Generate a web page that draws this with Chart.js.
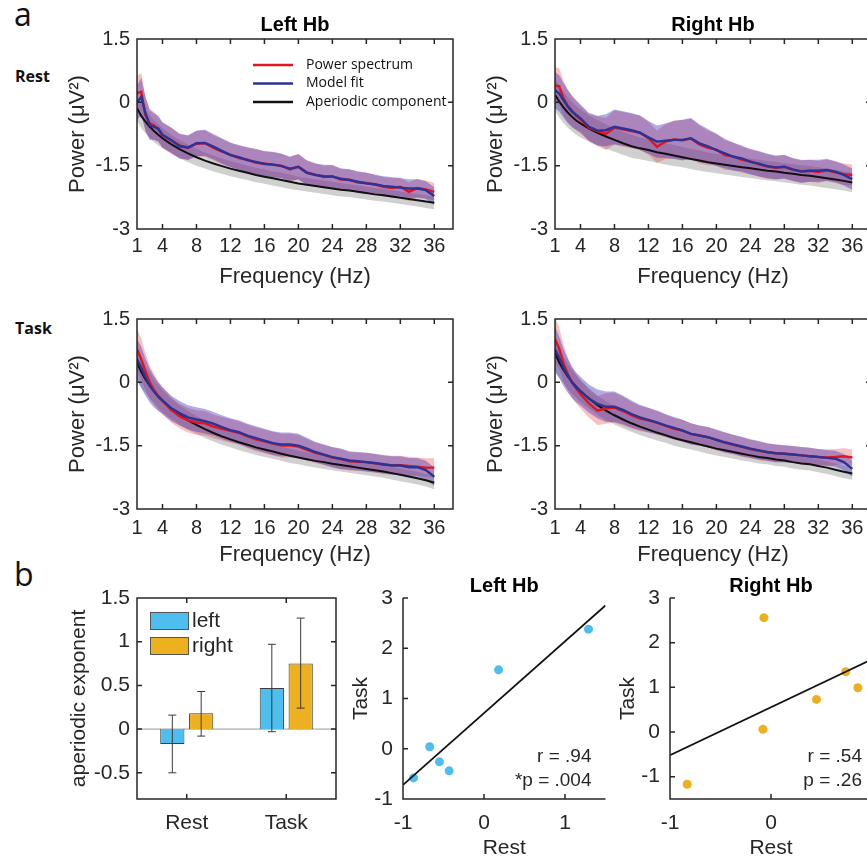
<!DOCTYPE html>
<html>
<head>
<meta charset="utf-8">
<script src="https://cdn.jsdelivr.net/npm/chart.js@4.4.1/dist/chart.umd.min.js"></script>
<style>
  html, body { margin: 0; padding: 0; background: #fff; }
  #fig { position: relative; width: 867px; height: 859px; overflow: hidden; }
  #fig canvas { position: absolute; }
  .lab { position: absolute; font-family: "Open Sans", sans-serif; color: #111; white-space: nowrap; }
</style>
</head>
<body>
<div id="fig">
  <div class="lab" style="left:14px; top:-2px; font-size:32px; line-height:32px;">a</div>
  <div class="lab" style="left:14px; top:558px; font-size:32px; line-height:32px;">b</div>
  <div class="lab" style="left:15px; top:68px; font-size:16px; line-height:16px; font-weight:bold;">Rest</div>
  <div class="lab" style="left:15px; top:320px; font-size:16px; line-height:16px; font-weight:bold;">Task</div>
</div>
<script>
// ---- spectra (a) ----
const freqs = [1, 1.5, 2, 2.5, 3, 3.5, 4, 5, 6, 7, 8, 9, 10, 11, 12, 13, 14, 15, 16, 17, 18, 19, 20,
  21, 22, 23, 24, 25, 26, 27, 28, 29, 30, 31, 32, 33, 34, 35, 36];
const freqTicks = [1, 4, 8, 12, 16, 20, 24, 28, 32, 36];
const powerTicks = [-3, -1.5, 0, 1.5];

const restLeftSpec = [0.22, 0.25, -0.30, -0.50, -0.55, -0.64, -0.78, -0.90, -1.02, -1.08, -0.98, -0.97, -1.08, -1.17, -1.24, -1.32, -1.36, -1.43, -1.45, -1.48, -1.50, -1.59, -1.52,
  -1.66, -1.71, -1.77, -1.75, -1.83, -1.83, -1.90, -1.91, -1.95, -2.00, -2.03, -2.00, -2.12, -2.03, -2.06, -2.12];
const restLeftFit = [-0.01, 0.13, -0.26, -0.54, -0.58, -0.62, -0.77, -0.89, -1.04, -1.07, -0.97, -0.96, -1.05, -1.15, -1.25, -1.30, -1.37, -1.41, -1.46, -1.47, -1.51, -1.57, -1.53,
  -1.67, -1.72, -1.75, -1.76, -1.81, -1.84, -1.88, -1.92, -1.94, -1.98, -2.00, -2.02, -2.04, -2.04, -2.08, -2.22];
const restLeftAper = [-0.14, -0.32, -0.46, -0.58, -0.68, -0.77, -0.85, -0.99, -1.11, -1.21, -1.30, -1.38, -1.45, -1.51, -1.57, -1.62, -1.67, -1.72, -1.76, -1.80, -1.84, -1.88, -1.92,
  -1.95, -1.98, -2.01, -2.04, -2.07, -2.09, -2.12, -2.15, -2.18, -2.20, -2.23, -2.26, -2.29, -2.32, -2.35, -2.38];
const restLeftSem = [0.40, 0.45, 0.40, 0.35, 0.32, 0.30, 0.30, 0.30, 0.29, 0.29, 0.30, 0.31, 0.30, 0.30, 0.29, 0.29, 0.30, 0.31, 0.30, 0.30, 0.29, 0.29, 0.30,
  0.29, 0.27, 0.27, 0.27, 0.25, 0.25, 0.25, 0.25, 0.23, 0.23, 0.23, 0.22, 0.22, 0.22, 0.21, 0.21];
const restLeftAperSem = [0.30, 0.29, 0.28, 0.27, 0.26, 0.25, 0.24, 0.23, 0.22, 0.21, 0.20, 0.19, 0.19, 0.18, 0.18, 0.18, 0.17, 0.17, 0.17, 0.17, 0.17, 0.17, 0.16,
  0.16, 0.16, 0.16, 0.16, 0.16, 0.15, 0.15, 0.15, 0.15, 0.15, 0.15, 0.15, 0.15, 0.15, 0.15, 0.15];

const restRightSpec = [0.40, 0.38, 0.10, -0.08, -0.20, -0.32, -0.40, -0.60, -0.68, -0.75, -0.60, -0.64, -0.68, -0.72, -0.85, -1.05, -0.93, -0.88, -0.90, -0.86, -1.00, -1.08, -1.12,
  -1.25, -1.28, -1.36, -1.40, -1.47, -1.52, -1.55, -1.52, -1.60, -1.63, -1.62, -1.65, -1.61, -1.66, -1.70, -1.72];
const restRightFit = [0.29, 0.21, 0.05, -0.10, -0.22, -0.30, -0.38, -0.58, -0.67, -0.66, -0.58, -0.62, -0.66, -0.72, -0.83, -0.93, -0.91, -0.89, -0.89, -0.85, -0.97, -1.04, -1.13,
  -1.21, -1.29, -1.33, -1.41, -1.45, -1.51, -1.54, -1.53, -1.59, -1.64, -1.62, -1.62, -1.60, -1.64, -1.72, -1.82];
const restRightAper = [0.18, 0.02, -0.12, -0.24, -0.34, -0.43, -0.50, -0.62, -0.72, -0.81, -0.89, -0.97, -1.04, -1.09, -1.13, -1.18, -1.22, -1.26, -1.30, -1.34, -1.38, -1.42, -1.45,
  -1.48, -1.51, -1.54, -1.56, -1.59, -1.62, -1.64, -1.67, -1.69, -1.72, -1.74, -1.77, -1.80, -1.83, -1.86, -1.90];
const restRightSem = [0.43, 0.43, 0.41, 0.39, 0.37, 0.35, 0.33, 0.33, 0.35, 0.38, 0.41, 0.41, 0.41, 0.41, 0.39, 0.38, 0.41, 0.45, 0.48, 0.48, 0.45, 0.41, 0.38,
  0.35, 0.33, 0.31, 0.30, 0.30, 0.29, 0.28, 0.28, 0.27, 0.27, 0.26, 0.26, 0.26, 0.25, 0.25, 0.25];
const restRightAperSem = [0.38, 0.38, 0.37, 0.36, 0.35, 0.34, 0.33, 0.31, 0.30, 0.29, 0.28, 0.27, 0.27, 0.26, 0.26, 0.25, 0.25, 0.25, 0.24, 0.24, 0.24, 0.23, 0.23,
  0.23, 0.23, 0.23, 0.23, 0.23, 0.23, 0.23, 0.23, 0.23, 0.23, 0.23, 0.23, 0.23, 0.23, 0.23, 0.23];

const taskLeftSpec = [0.78, 0.55, 0.25, 0.00, -0.18, -0.32, -0.43, -0.65, -0.80, -0.90, -0.95, -0.97, -1.05, -1.10, -1.15, -1.20, -1.28, -1.35, -1.40, -1.45, -1.50, -1.50, -1.52,
  -1.60, -1.67, -1.72, -1.78, -1.82, -1.87, -1.88, -1.89, -1.92, -1.95, -1.96, -1.96, -1.98, -2.00, -2.02, -2.02];
const taskLeftFit = [0.55, 0.35, 0.12, -0.08, -0.22, -0.34, -0.43, -0.61, -0.73, -0.83, -0.88, -0.92, -0.98, -1.06, -1.13, -1.18, -1.26, -1.32, -1.38, -1.44, -1.47, -1.47, -1.50,
  -1.57, -1.65, -1.71, -1.77, -1.81, -1.85, -1.87, -1.89, -1.91, -1.94, -1.97, -1.97, -2.01, -2.01, -2.08, -2.24];
const taskLeftAper = [0.47, 0.25, 0.07, -0.08, -0.20, -0.33, -0.44, -0.62, -0.77, -0.90, -1.01, -1.11, -1.20, -1.28, -1.35, -1.42, -1.48, -1.54, -1.59, -1.64, -1.69, -1.74, -1.78,
  -1.82, -1.86, -1.89, -1.93, -1.96, -1.99, -2.02, -2.05, -2.08, -2.11, -2.15, -2.19, -2.23, -2.27, -2.32, -2.38];
const taskLeftSem = [0.49, 0.49, 0.44, 0.40, 0.37, 0.34, 0.32, 0.30, 0.29, 0.29, 0.29, 0.29, 0.28, 0.28, 0.28, 0.28, 0.28, 0.28, 0.28, 0.28, 0.28, 0.28, 0.28,
  0.26, 0.24, 0.24, 0.24, 0.24, 0.22, 0.22, 0.22, 0.22, 0.22, 0.22, 0.22, 0.22, 0.22, 0.22, 0.22];
const taskLeftAperSem = [0.42, 0.37, 0.32, 0.30, 0.28, 0.27, 0.26, 0.24, 0.23, 0.22, 0.22, 0.21, 0.20, 0.20, 0.19, 0.19, 0.18, 0.18, 0.18, 0.17, 0.17, 0.17, 0.16,
  0.16, 0.16, 0.16, 0.15, 0.15, 0.15, 0.15, 0.15, 0.15, 0.15, 0.15, 0.15, 0.15, 0.15, 0.15, 0.15];

const taskRightSpec = [1.02, 0.80, 0.45, 0.20, 0.00, -0.15, -0.28, -0.50, -0.67, -0.62, -0.60, -0.68, -0.78, -0.86, -0.90, -0.96, -1.03, -1.10, -1.15, -1.22, -1.26, -1.30, -1.37,
  -1.43, -1.48, -1.53, -1.58, -1.62, -1.66, -1.68, -1.69, -1.71, -1.73, -1.75, -1.77, -1.78, -1.77, -1.75, -1.78];
const taskRightFit = [0.78, 0.59, 0.35, 0.16, 0.00, -0.12, -0.21, -0.39, -0.51, -0.58, -0.58, -0.65, -0.75, -0.83, -0.89, -0.95, -1.02, -1.08, -1.14, -1.22, -1.26, -1.30, -1.36,
  -1.42, -1.47, -1.52, -1.57, -1.61, -1.65, -1.68, -1.69, -1.71, -1.73, -1.75, -1.77, -1.79, -1.81, -1.89, -2.05];
const taskRightAper = [0.70, 0.47, 0.29, 0.14, 0.01, -0.10, -0.21, -0.38, -0.54, -0.67, -0.78, -0.88, -0.97, -1.05, -1.12, -1.19, -1.25, -1.32, -1.37, -1.42, -1.47, -1.52, -1.57,
  -1.61, -1.65, -1.69, -1.73, -1.77, -1.79, -1.83, -1.85, -1.89, -1.92, -1.94, -1.98, -2.02, -2.07, -2.12, -2.16];
const taskRightSem = [0.54, 0.49, 0.44, 0.40, 0.37, 0.35, 0.34, 0.33, 0.34, 0.36, 0.36, 0.34, 0.32, 0.30, 0.29, 0.28, 0.27, 0.26, 0.26, 0.25, 0.24, 0.24, 0.24,
  0.24, 0.23, 0.23, 0.22, 0.22, 0.21, 0.21, 0.20, 0.20, 0.20, 0.20, 0.19, 0.19, 0.19, 0.19, 0.19];
const taskRightAperSem = taskLeftAperSem;

// ---- aperiodic exponent (b) ----
const conditions = ['Rest', 'Task'];
const leftExp = [-0.17, 0.47];
const rightExp = [0.18, 0.75];
const leftExpLo = [-0.50, -0.03];
const leftExpHi = [0.16, 0.97];
const rightExpLo = [-0.08, 0.24];
const rightExpHi = [0.43, 1.27];
const expTicks = [-0.5, 0, 0.5, 1, 1.5];

const leftRest = [1.29, 0.18, -0.67, -0.55, -0.43, -0.87];
const leftTask = [2.38, 1.57, 0.04, -0.26, -0.44, -0.58];
const leftFitX = [-1, 1.5];
const leftFitY = [-0.72, 2.85];
const rightRest = [-0.07, 0.74, 0.86, 0.45, -0.08, -0.83];
const rightTask = [2.56, 1.35, 0.99, 0.73, 0.06, -1.17];
const rightFitX = [-1, 1];
const rightFitY = [-0.52, 1.63];

const INK = '#262626';
const RED = '#E3141E';
const BLUE = '#2B3396';
const SKY = '#4DBEEE';
const GOLD = '#EDB120';

Chart.defaults.font.family = '"Liberation Sans", Arial, Helvetica, sans-serif';
Chart.defaults.color = INK;
Chart.defaults.animation = false;

function makeCanvas(left, top, w, h) {
  const c = document.createElement('canvas');
  c.width = w; c.height = h;
  c.style.left = left + 'px';
  c.style.top = top + 'px';
  document.getElementById('fig').appendChild(c);
  return c;
}

// box + inward ticks, MATLAB style
const axesFrame = {
  id: 'axesFrame',
  defaults: { box: true },
  afterDatasetsDraw(chart, args, o) {
    const { ctx, chartArea: a, scales: { x, y } } = chart;
    const len = 5;
    ctx.save();
    ctx.strokeStyle = INK;
    ctx.lineWidth = 1.5;
    ctx.beginPath();
    if (o.box) {
      ctx.rect(a.left, a.top, a.right - a.left, a.bottom - a.top);
    } else {
      ctx.moveTo(a.left, a.top); ctx.lineTo(a.left, a.bottom); ctx.lineTo(a.right, a.bottom);
    }
    x.ticks.forEach((t, i) => {
      const px = x.getPixelForTick(i);
      ctx.moveTo(px, a.bottom); ctx.lineTo(px, a.bottom - len);
      if (o.box) { ctx.moveTo(px, a.top); ctx.lineTo(px, a.top + len); }
    });
    y.ticks.forEach((t, i) => {
      const py = y.getPixelForTick(i);
      ctx.moveTo(a.left, py); ctx.lineTo(a.left + len, py);
      if (o.box) { ctx.moveTo(a.right, py); ctx.lineTo(a.right - len, py); }
    });
    ctx.stroke();
    ctx.restore();
  }
};

const specLegend = {
  id: 'specLegend',
  afterDatasetsDraw(chart, args, o) {
    if (!o.show) return;
    const { ctx, chartArea: a } = chart;
    ctx.save();
    ctx.font = '14px "Open Sans", sans-serif';
    ctx.textBaseline = 'middle';
    [1, 0, 2].forEach((di, k) => {
      const ds = chart.data.datasets[di];
      const yy = a.top + 26 + k * 18.5;
      ctx.strokeStyle = ds.borderColor;
      ctx.lineWidth = 2.5;
      ctx.beginPath(); ctx.moveTo(a.left + 116, yy); ctx.lineTo(a.left + 156, yy); ctx.stroke();
      ctx.fillStyle = '#111';
      ctx.fillText(ds.label, a.left + 169, yy);
    });
    ctx.restore();
  }
};

function band(mean, sem, color, ord) {
  return [
    { data: freqs.map((f, i) => ({ x: f, y: mean[i] + sem[i] })), borderWidth: 0, backgroundColor: color, fill: '+1', order: ord },
    { data: freqs.map((f, i) => ({ x: f, y: mean[i] - sem[i] })), borderWidth: 0, fill: false, order: ord + 1 }
  ];
}

function spectrum(canvas, spec, fit, aper, sem, aperSem, o) {
  const pts = arr => freqs.map((f, i) => ({ x: f, y: arr[i] }));
  return new Chart(canvas, {
    type: 'line',
    data: {
      datasets: [
        { label: 'Model fit', data: pts(fit), borderColor: BLUE, borderWidth: 2.4, order: 0 },
        { label: 'Power spectrum', data: pts(spec), borderColor: RED, borderWidth: 2.4, order: 1 },
        { label: 'Aperiodic component', data: pts(aper), borderColor: '#111', borderWidth: 2, order: 2 },
        ...band(fit, sem, 'rgba(60,45,185,0.40)', 3),
        ...band(spec, sem, 'rgba(235,60,60,0.32)', 5),
        ...band(aper, aperSem, 'rgba(150,150,150,0.45)', 7)
      ]
    },
    options: {
      responsive: false,
      layout: { padding: { top: o.top, right: 4, left: 0, bottom: 0 } },
      elements: { point: { radius: 0 }, line: { tension: 0 } },
      plugins: {
        legend: { display: false },
        tooltip: { enabled: false },
        title: {
          display: !!o.title, text: o.title, fullSize: false, color: '#000',
          font: { size: 20, weight: 'bold' }, padding: { top: 13, bottom: 2 }
        },
        specLegend: { show: !!o.legend }
      },
      scales: {
        x: {
          type: 'linear', min: 1, max: 38.2,
          afterBuildTicks: s => { s.ticks = freqTicks.map(v => ({ value: v })); },
          afterFit: s => { s.height = o.xh; },
          grid: { display: false, drawTicks: false }, border: { display: false },
          ticks: { padding: o.tickPad, autoSkip: false, maxRotation: 0, font: { size: 20 }, callback: v => String(v) },
          title: { display: true, text: 'Frequency (Hz)', font: { size: 22 }, padding: { top: 0, bottom: 0 } }
        },
        y: {
          min: -3, max: 1.5,
          afterBuildTicks: s => { s.ticks = powerTicks.map(v => ({ value: v })); },
          afterFit: s => { s.width = 87; },
          grid: { display: false, drawTicks: false }, border: { display: false },
          ticks: { padding: 7, font: { size: 20 }, callback: v => String(v) },
          title: { display: true, text: 'Power (μV²)', font: { size: 22 }, padding: { top: 15, bottom: 0 } }
        }
      }
    },
    plugins: [axesFrame, specLegend]
  });
}

spectrum(makeCanvas(50, 0, 407, 290), restLeftSpec, restLeftFit, restLeftAper, restLeftSem, restLeftAperSem,
  { title: 'Left Hb', legend: true, top: 0, xh: 61, tickPad: 5 });
spectrum(makeCanvas(468, 0, 407, 290), restRightSpec, restRightFit, restRightAper, restRightSem, restRightAperSem,
  { title: 'Right Hb', top: 0, xh: 61, tickPad: 5 });
spectrum(makeCanvas(50, 300, 407, 268), taskLeftSpec, taskLeftFit, taskLeftAper, taskLeftSem, taskLeftAperSem,
  { top: 18, xh: 59, tickPad: 7 });
spectrum(makeCanvas(468, 300, 407, 268), taskRightSpec, taskRightFit, taskRightAper, taskRightSem, taskRightAperSem,
  { top: 18, xh: 59, tickPad: 7 });

// ---- bar chart ----
const barExtras = {
  id: 'barExtras',
  beforeDatasetsDraw(chart) {
    const { ctx, chartArea: a, scales: { y } } = chart;
    const y0 = y.getPixelForValue(0);
    ctx.save();
    ctx.strokeStyle = '#9a9a9a'; ctx.lineWidth = 1;
    ctx.beginPath(); ctx.moveTo(a.left, y0); ctx.lineTo(a.right, y0); ctx.stroke();
    ctx.restore();
  },
  afterDatasetsDraw(chart) {
    const { ctx, chartArea: a, scales: { y } } = chart;
    ctx.save();
    ctx.strokeStyle = '#3a3a3a'; ctx.lineWidth = 1;
    chart.data.datasets.forEach((ds, di) => {
      chart.getDatasetMeta(di).data.forEach((bar, j) => {
        const lo = y.getPixelForValue(ds.errLo[j]);
        const hi = y.getPixelForValue(ds.errHi[j]);
        ctx.beginPath();
        ctx.moveTo(bar.x, lo); ctx.lineTo(bar.x, hi);
        ctx.moveTo(bar.x - 4, lo); ctx.lineTo(bar.x + 4, lo);
        ctx.moveTo(bar.x - 4, hi); ctx.lineTo(bar.x + 4, hi);
        ctx.stroke();
      });
    });
    // legend
    ctx.font = '21px "Liberation Sans", Arial, sans-serif';
    ctx.textBaseline = 'middle';
    chart.data.datasets.forEach((ds, k) => {
      const top = a.top + 14 + k * 25;
      ctx.fillStyle = ds.backgroundColor;
      ctx.fillRect(a.left + 13, top, 39, 18);
      ctx.strokeStyle = '#555';
      ctx.strokeRect(a.left + 13.5, top + 0.5, 38, 17);
      ctx.fillStyle = INK;
      ctx.fillText(ds.label, a.left + 55, top + 9);
    });
    ctx.restore();
  }
};

new Chart(makeCanvas(50, 560, 290, 279), {
  type: 'bar',
  data: {
    labels: conditions,
    datasets: [
      { label: 'left', data: leftExp, errLo: leftExpLo, errHi: leftExpHi, backgroundColor: SKY, borderColor: '#3d3d3d', borderWidth: 1 },
      { label: 'right', data: rightExp, errLo: rightExpLo, errHi: rightExpHi, backgroundColor: GOLD, borderColor: '#3d3d3d', borderWidth: 1 }
    ]
  },
  options: {
    responsive: false,
    categoryPercentage: 0.58,
    barPercentage: 0.84,
    layout: { padding: { top: 38, right: 4, left: 0, bottom: 0 } },
    plugins: { legend: { display: false }, tooltip: { enabled: false } },
    scales: {
      x: {
        afterFit: s => { s.height = 40; },
        grid: { display: false, drawTicks: false }, border: { display: false },
        ticks: { padding: 12, font: { size: 21 } }
      },
      y: {
        min: -0.8, max: 1.5,
        afterBuildTicks: s => { s.ticks = expTicks.map(v => ({ value: v })); },
        afterFit: s => { s.width = 87; },
        grid: { display: false, drawTicks: false }, border: { display: false },
        ticks: { padding: 7, font: { size: 21 }, callback: v => String(v) },
        title: { display: true, text: 'aperiodic exponent', font: { size: 21 }, padding: { top: 17, bottom: 0 } }
      }
    }
  },
  plugins: [axesFrame, barExtras]
});

// ---- scatter plots ----
const statsText = {
  id: 'statsText',
  afterDatasetsDraw(chart, args, o) {
    const { ctx, chartArea: a } = chart;
    ctx.save();
    ctx.font = '19px "Liberation Sans", Arial, sans-serif';
    ctx.fillStyle = INK;
    ctx.textAlign = 'right';
    ctx.textBaseline = 'middle';
    ctx.fillText(o.lines[0], a.right - o.inset, a.bottom - 42);
    ctx.fillText(o.lines[1], a.right - o.inset, a.bottom - 18);
    ctx.restore();
  }
};

function scatter(canvas, xs, ys, fitX, fitY, color, o) {
  return new Chart(canvas, {
    type: 'scatter',
    data: {
      datasets: [
        { data: fitX.map((v, i) => ({ x: v, y: fitY[i] })), showLine: true, borderColor: '#111', borderWidth: 1.8, pointRadius: 0, order: 0 },
        { data: xs.map((v, i) => ({ x: v, y: ys[i] })), backgroundColor: color, borderWidth: 0, pointRadius: 4.5, order: 1 }
      ]
    },
    options: {
      responsive: false,
      layout: { padding: { top: 0, right: o.padRight, left: 0, bottom: 0 } },
      plugins: {
        legend: { display: false },
        tooltip: { enabled: false },
        title: {
          display: true, text: o.title, fullSize: false, color: '#000',
          font: { size: 20, weight: 'bold' }, padding: { top: 14, bottom: 0 }
        },
        axesFrame: { box: false },
        statsText: { lines: o.stats, inset: o.inset }
      },
      scales: {
        x: {
          type: 'linear', min: -1, max: o.xmax,
          afterBuildTicks: s => { s.ticks = [-1, 0, 1].map(v => ({ value: v })); },
          afterFit: s => { s.height = 62; },
          grid: { display: false, drawTicks: false }, border: { display: false },
          ticks: { padding: 12, font: { size: 21 }, callback: v => String(v) },
          title: { display: true, text: 'Rest', font: { size: 21 }, padding: { top: 0, bottom: 0 } }
        },
        y: {
          min: o.ymin, max: 3,
          afterBuildTicks: s => { s.ticks = [-1, 0, 1, 2, 3].map(v => ({ value: v })); },
          afterFit: s => { s.width = 63; },
          grid: { display: false, drawTicks: false }, border: { display: false },
          ticks: { padding: 10, font: { size: 21 }, callback: v => String(v) },
          title: { display: true, text: 'Task', font: { size: 21 }, padding: { top: 9, bottom: 0 } }
        }
      }
    },
    plugins: [axesFrame, statsText]
  });
}

scatter(makeCanvas(340, 560, 270, 301), leftRest, leftTask, leftFitX, leftFitY, SKY,
  { title: 'Left Hb', xmax: 1.5, ymin: -1, stats: ['r = .94', '*p = .004'], inset: 14, padRight: 4 });
scatter(makeCanvas(607, 560, 287, 301), rightRest, rightTask, rightFitX, rightFitY, GOLD,
  { title: 'Right Hb', xmax: 1, ymin: -1.5, stats: ['r = .54', 'p = .26'], inset: 10, padRight: 22 });
</script>
</body>
</html>
